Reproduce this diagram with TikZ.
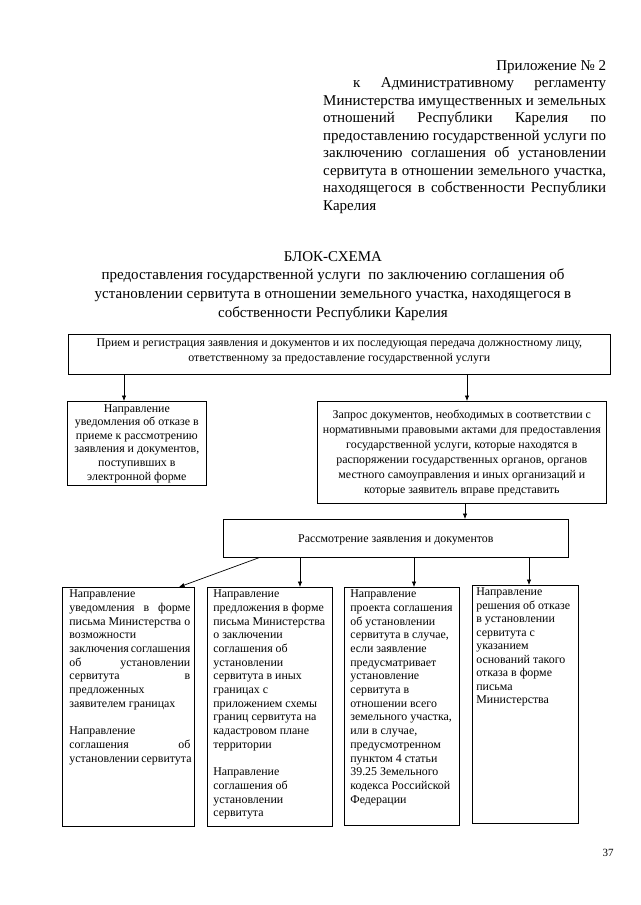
\documentclass[tikz,border=0pt]{standalone}
\usepackage{fontspec}
\setmainfont{Liberation Serif}
\usetikzlibrary{arrows.meta}
\newcommand\rowL[1]{\hbox to\linewidth{#1\hfil}}
\newcommand\rowC[1]{\hbox to\linewidth{\hfil#1\hfil}}
\newcommand\rowJ[1]{\hbox to\linewidth{#1}}
\newcommand\rowB{\hbox{}}
\newcommand\hdfont{\fontsize{15}{17.5}\selectfont}
\newcommand\ttfontsz{\fontsize{15}{18.7}\selectfont}
\newcommand\bxfont{\fontsize{11.9}{14}\selectfont}
\hbadness=10000 \hfuzz=60pt
\begin{document}
\begin{tikzpicture}[x=1pt,y=-1pt,
  box/.style={draw, line width=0.7pt, inner sep=0pt, anchor=north west},
  txt/.style={inner sep=0pt, anchor=north west},
  arr/.style={line width=0.7pt, -{Latex[length=5.5pt,width=4.5pt]}}]
\fill[white] (0,0) rectangle (640,905);
\useasboundingbox (0,0) rectangle (640,905);

% appendix header
\node[txt] (hdr) at (323,60) {\parbox[t]{283pt}{\hdfont
\rowJ{\hfill Приложение № 2}
\rowJ{\hskip30pt к\hfill Административному\hfill регламенту}
\rowJ{Министерства имущественных и земельных}
\rowJ{отношений Республики Карелия по}
\rowJ{предоставлению государственной услуги по}
\rowJ{заключению соглашения об установлении}
\rowJ{сервитута в отношении земельного участка,}
\rowJ{находящегося в собственности Республики}
\rowL{Карелия}}};

% title
\node[inner sep=0pt, anchor=north] (ttl) at (333,251) {\parbox[t]{540pt}{\ttfontsz
\rowC{БЛОК-СХЕМА}
\rowC{предоставления государственной услуги~ по заключению соглашения об}
\rowC{установлении сервитута в отношении земельного участка, находящегося в}
\rowC{собственности Республики Карелия}}};

% top box
\node[box] (tb) at (68,334) {\hspace*{4pt}\parbox[c][40pt][t]{534pt}{\bxfont\baselineskip=15pt\vskip4.5pt
\rowC{Прием и регистрация заявления и документов и их последующая передача должностному лицу,}
\rowC{ответственному за предоставление государственной услуги}}\hspace*{4pt}};

% left box
\node[box] (lb) at (67,401) {\hspace*{2pt}\parbox[c][84pt][t]{135pt}{\bxfont\baselineskip=13.6pt\vskip3pt
\rowC{Направление}
\rowC{уведомления об отказе в}
\rowC{приеме к рассмотрению}
\rowC{заявления и документов,}
\rowC{поступивших в}
\rowC{электронной форме}}\hspace*{2pt}};

% right box
\node[box] (rb) at (317,401) {\hspace*{2pt}\parbox[c][102pt][t]{285pt}{\bxfont\baselineskip=15pt\vskip8.5pt
\rowC{Запрос документов, необходимых в соответствии с}
\rowC{нормативными правовыми актами для предоставления}
\rowC{государственной услуги, которые находятся в}
\rowC{распоряжении государственных органов, органов}
\rowC{местного самоуправления и иных организаций и}
\rowC{которые заявитель вправе представить}}\hspace*{2pt}};

% review box
\node[box] (cb) at (223,519) {\hspace*{4pt}\parbox[c][38pt][t]{337pt}{\bxfont\vskip15pt
\rowC{Рассмотрение заявления и документов}}\hspace*{4pt}};

% bottom boxes
\node[box] (b1) at (62,587) {\hspace*{7pt}\parbox[c][239pt][t]{121pt}{\bxfont\baselineskip=13.7pt\vskip2.5pt
\rowL{Направление}
\rowJ{уведомления в форме}
\rowJ{письма Министерства о}
\rowL{возможности}
\rowJ{заключения соглашения}
\rowJ{об установлении}
\rowJ{сервитута в}
\rowL{предложенных}
\rowL{заявителем границах}
\rowB
\rowL{Направление}
\rowJ{соглашения об}
\rowL{установлении сервитута}}\hspace*{4pt}};

\node[box] (b2) at (207,587) {\hspace*{6pt}\parbox[c][239pt][t]{115pt}{\bxfont\baselineskip=13.7pt\vskip2.5pt
\rowL{Направление}
\rowL{предложения в форме}
\rowL{письма Министерства}
\rowL{о заключении}
\rowL{соглашения об}
\rowL{установлении}
\rowL{сервитута в иных}
\rowL{границах с}
\rowL{приложением схемы}
\rowL{границ сервитута на}
\rowL{кадастровом плане}
\rowL{территории}
\rowB
\rowL{Направление}
\rowL{соглашения об}
\rowL{установлении}
\rowL{сервитута}}\hspace*{4pt}};

\node[box] (b3) at (344,587) {\hspace*{6pt}\parbox[c][238pt][t]{106pt}{\bxfont\baselineskip=13.7pt\vskip2.5pt
\rowL{Направление}
\rowL{проекта соглашения}
\rowL{об установлении}
\rowL{сервитута в случае,}
\rowL{если заявление}
\rowL{предусматривает}
\rowL{установление}
\rowL{сервитута в}
\rowL{отношении всего}
\rowL{земельного участка,}
\rowL{или в случае,}
\rowL{предусмотренном}
\rowL{пунктом 4 статьи}
\rowL{39.25 Земельного}
\rowL{кодекса Российской}
\rowL{Федерации}}\hspace*{3pt}};

\node[box] (b4) at (472,585) {\hspace*{4pt}\parbox[c][238pt][t]{99pt}{\bxfont\baselineskip=13.5pt\vskip2.5pt
\rowL{Направление}
\rowL{решения об отказе}
\rowL{в установлении}
\rowL{сервитута с}
\rowL{указанием}
\rowL{оснований такого}
\rowL{отказа в форме}
\rowL{письма}
\rowL{Министерства}}\hspace*{3pt}};

% page number
\node[inner sep=0pt] (pg) at (608,853) {\fontsize{11}{13}\selectfont 37};

% connectors
\draw[arr] ([xshift=56pt]tb.south west) -- ([xshift=57pt]lb.north west);
\draw[arr] ([xshift=399pt]tb.south west) -- ([xshift=150pt]rb.north west);
\draw[arr] ([xshift=148pt]rb.south west) -- ([xshift=242pt]cb.north west);
\draw[arr] ([xshift=36pt]cb.south west) -- ([xshift=117pt]b1.north west);
\draw[arr] ([xshift=77pt]cb.south west) -- ([xshift=93pt]b2.north west);
\draw[arr] ([xshift=191pt]cb.south west) -- ([xshift=70pt]b3.north west);
\draw[arr] ([xshift=306pt]cb.south west) -- ([xshift=57pt]b4.north west);
\end{tikzpicture}
\end{document}
